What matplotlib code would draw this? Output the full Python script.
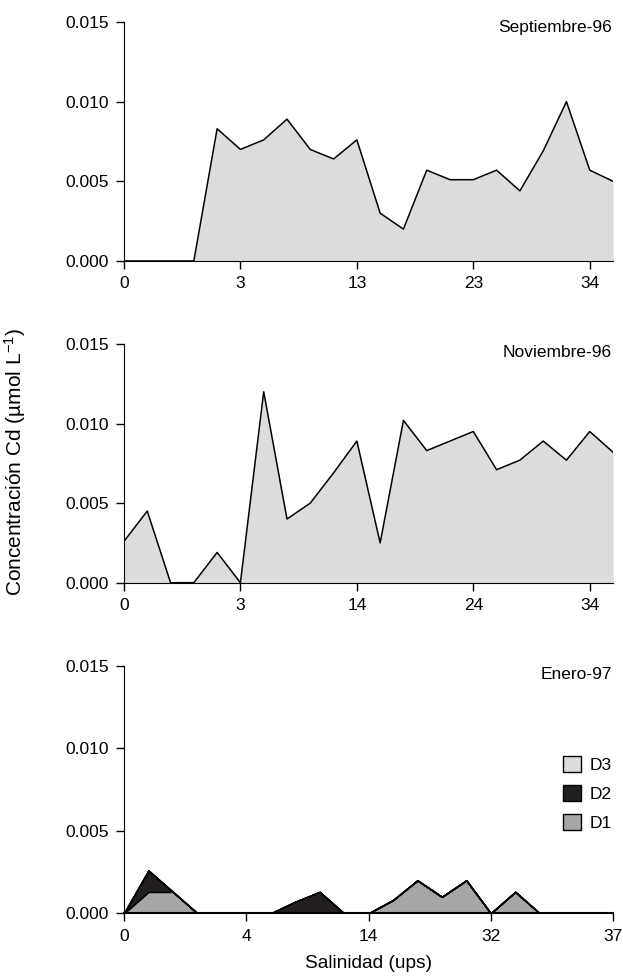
import numpy as np
import matplotlib
matplotlib.use('Agg')
import matplotlib.pyplot as plt
from matplotlib.patches import Patch

plt.rcParams['font.family'] = ['Liberation Sans', 'DejaVu Sans']
plt.rcParams['font.size'] = 12.5
plt.rcParams['mathtext.fontset'] = 'custom'
plt.rcParams['mathtext.rm'] = 'Liberation Sans'
plt.rcParams['mathtext.it'] = 'Liberation Sans'

# fill colours for the three depth layers
c1 = '#a6a6a6'
c2 = '#231f20'
c3 = '#dcdcdc'

# Septiembre-96 (D3 only)
sep_ticks = ['0', '3', '13', '23', '34']
sep_d3 = [0, 0, 0, 0, 0.0083, 0.0070, 0.0076, 0.0089, 0.0070, 0.0064, 0.0076,
          0.0030, 0.0020, 0.0057, 0.0051, 0.0051, 0.0057, 0.0044, 0.0069, 0.0100,
          0.0057, 0.0050]

# Noviembre-96 (D3 only)
nov_ticks = ['0', '3', '14', '24', '34']
nov_d3 = [0.0026, 0.0045, 0, 0, 0.0019, 0, 0.0120, 0.0040, 0.0050, 0.0069, 0.0089,
          0.0025, 0.0102, 0.0083, 0.0089, 0.0095, 0.0071, 0.0077, 0.0089, 0.0077,
          0.0095, 0.0082]

# Enero-97 (stacked D1, D2, D3)
ene_ticks = ['0', '4', '14', '32', '37']
ene_d1 = [0, 0.0013, 0.0013, 0, 0, 0, 0, 0, 0, 0, 0,
          0.0008, 0.0020, 0.0010, 0.0020, 0, 0.0013, 0, 0, 0, 0]
ene_d2 = [0, 0.0013, 0, 0, 0, 0, 0, 0.0007, 0.0013, 0, 0,
          0, 0, 0, 0, 0, 0, 0, 0, 0, 0]
ene_d3 = [0] * 21

fig = plt.figure(figsize=(6.23, 9.77), dpi=100)
ax1 = fig.add_axes([0.199, 0.7329, 0.785, 0.2446])
ax2 = fig.add_axes([0.199, 0.4036, 0.785, 0.2443])
ax3 = fig.add_axes([0.199, 0.0652, 0.785, 0.2531])


def style(ax, n, ticks, title, ty):
    ax.set_xlim(0, n - 1)
    ax.set_ylim(0, 0.015)
    ax.set_xticks(np.arange(0, n, 5))
    ax.set_xticklabels(ticks)
    ax.set_yticks([0, 0.005, 0.010, 0.015])
    ax.set_yticklabels(['0.000', '0.005', '0.010', '0.015'])
    ax.spines['top'].set_visible(False)
    ax.spines['right'].set_visible(False)
    ax.tick_params(length=6, width=1, pad=5)
    ax.text(0.998, ty, title, ha='right', va='center', transform=ax.transAxes)


x = np.arange(len(sep_d3))
ax1.fill_between(x, sep_d3, color=c3, lw=0)
ax1.plot(x, sep_d3, 'k', lw=1.1)
style(ax1, len(sep_d3), sep_ticks, 'Septiembre-96', 0.975)

x = np.arange(len(nov_d3))
ax2.fill_between(x, nov_d3, color=c3, lw=0)
ax2.plot(x, nov_d3, 'k', lw=1.1)
style(ax2, len(nov_d3), nov_ticks, 'Noviembre-96', 0.966)

x = np.arange(len(ene_d1))
ax3.stackplot(x, ene_d1, ene_d2, ene_d3, colors=[c1, c2, c3],
              edgecolor='k', lw=1.1)
style(ax3, len(ene_d1), ene_ticks, 'Enero-97', 0.964)
ax3.spines['bottom'].set_linewidth(1.5)

handles = [Patch(fc=c3, ec='k', label='D3'),
           Patch(fc=c2, ec='k', label='D2'),
           Patch(fc=c1, ec='k', label='D1')]
ax3.legend(handles=handles, loc='upper left', bbox_to_anchor=(0.898, 0.636),
           frameon=False, borderaxespad=0, borderpad=0, handlelength=1.05,
           handleheight=1.05, handletextpad=0.5, labelspacing=0.7)

fig.text(0.024, 0.527, 'Concentración Cd (µmol L$^{-1}$)', rotation=90,
         ha='center', va='center', fontsize=15)
fig.text(0.592, 0.0143, 'Salinidad (ups)', ha='center', va='center',
         fontsize=13.8)

fig.savefig('out.png', dpi=100)
